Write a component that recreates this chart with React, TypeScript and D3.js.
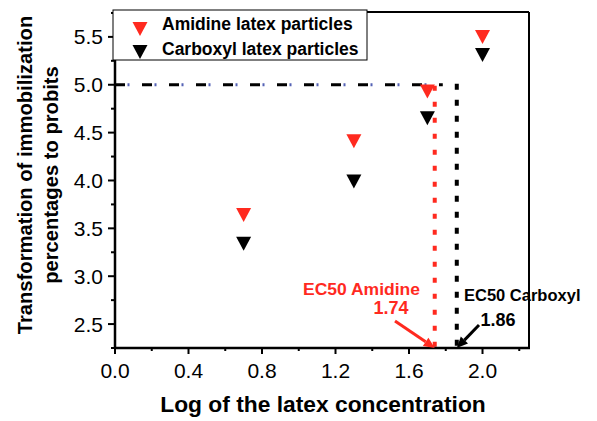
import React from "react";
import * as d3 from "d3";

const xValues = [0.7, 1.3, 1.7, 2.0];
const amidine = [3.64, 4.41, 4.93, 5.5];
const carboxyl = [3.34, 3.99, 4.65, 5.31];
const xTicks = [0.0, 0.4, 0.8, 1.2, 1.6, 2.0];
const yTicks = [2.5, 3.0, 3.5, 4.0, 4.5, 5.0, 5.5];
const xMinor = [0.2, 0.6, 1.0, 1.4, 1.8, 2.2];
const yMinor = [2.25, 2.75, 3.25, 3.75, 4.25, 4.75, 5.25, 5.75];
const ec50Amidine = 1.74;
const ec50Carboxyl = 1.86;
const probit50 = 5.0;

const W = 597, H = 421;
const L = 115, R = 529, T = 12, B = 348;
const FONT = "'Liberation Sans', Arial, Helvetica, sans-serif";
const RED = "#ff2a1f";

export default function App() {
  const x = d3.scaleLinear().domain([0, 2.253]).range([L, R]);
  const y = d3.scaleLinear().domain([2.25, 5.76]).range([B, T]);
  const tri = "M-7.5,-7L7.5,-7L0,7Z";
  const fmt = d3.format(".1f");

  const arrow = (x1: number, y1: number, x2: number, y2: number, color: string) => {
    const ang = Math.atan2(y2 - y1, x2 - x1);
    const hl = 11, hw = 5;
    const bx = x2 - hl * Math.cos(ang), by = y2 - hl * Math.sin(ang);
    const px = -Math.sin(ang) * hw, py = Math.cos(ang) * hw;
    return (
      <g>
        <line x1={x1} y1={y1} x2={bx} y2={by} stroke={color} strokeWidth={3} />
        <path d={`M${x2},${y2}L${bx + px},${by + py}L${bx - px},${by - py}Z`} fill={color} />
      </g>
    );
  };

  return (
    <svg width={W} height={H} style={{ position: "absolute", left: 0, top: 0, background: "#fff" }} fontFamily={FONT}>
      <rect x={0} y={0} width={W} height={H} fill="#fff" />
      {/* reference lines */}
      <line x1={x(0)} x2={x(ec50Carboxyl) - 14} y1={y(probit50)} y2={y(probit50)} stroke="#000" strokeWidth={3} strokeDasharray="10 17" />
      <line x1={x(0)} x2={x(ec50Carboxyl) - 14} y1={y(probit50)} y2={y(probit50)} stroke="#5563b5" strokeWidth={3} strokeDasharray="2 25" strokeDashoffset={-12.5} />
      <line x1={x(ec50Amidine)} x2={x(ec50Amidine)} y1={y(probit50) + 1} y2={B} stroke={RED} strokeWidth={4} strokeDasharray="5 11" />
      <line x1={x(ec50Carboxyl)} x2={x(ec50Carboxyl)} y1={y(probit50) - 1} y2={B} stroke="#000" strokeWidth={4} strokeDasharray="6 10" />

      {/* frame */}
      <line x1={L} x2={R} y1={T} y2={T} stroke="#000" strokeWidth={2} />
      <line x1={R} x2={R} y1={T} y2={B} stroke="#000" strokeWidth={2} />
      <line x1={L} x2={R + 1} y1={B} y2={B} stroke="#000" strokeWidth={2.5} />
      <line x1={L} x2={L} y1={T} y2={B + 1} stroke="#000" strokeWidth={2.5} />

      {/* x ticks */}
      {xTicks.map((t) => (
        <g key={"xt" + t}>
          <line x1={x(t)} x2={x(t)} y1={B} y2={B + 6} stroke="#000" strokeWidth={2} />
          <text x={x(t)} y={378} textAnchor="middle" fontSize={21} fill="#000">{fmt(t)}</text>
        </g>
      ))}
      {xMinor.map((t) => (
        <line key={"xm" + t} x1={x(t)} x2={x(t)} y1={B} y2={B + 3} stroke="#000" strokeWidth={2} />
      ))}
      {/* y ticks */}
      {yTicks.map((t) => (
        <g key={"yt" + t}>
          <line x1={L - 7} x2={L} y1={y(t)} y2={y(t)} stroke="#000" strokeWidth={2} />
          <text x={103} y={y(t)} dy="0.36em" textAnchor="end" fontSize={21} fill="#000">{fmt(t)}</text>
        </g>
      ))}
      {yMinor.map((t) => (
        <line key={"ym" + t} x1={L - 4} x2={L} y1={y(t)} y2={y(t)} stroke="#000" strokeWidth={2} />
      ))}

      {/* data */}
      {xValues.map((v, i) => (
        <path key={"a" + i} d={tri} transform={`translate(${x(v)},${y(amidine[i])})`} fill={RED} />
      ))}
      {xValues.map((v, i) => (
        <path key={"c" + i} d={tri} transform={`translate(${x(v)},${y(carboxyl[i])})`} fill="#000" />
      ))}

      {/* legend */}
      <rect x={113} y={10} width={254} height={50} fill="#fff" stroke="#000" strokeWidth={1} />
      <path d={tri} transform="translate(140,29)" fill={RED} />
      <path d={tri} transform="translate(140,52)" fill="#000" />
      <text x={162} y={30} fontSize={17.5} fontWeight="bold" fill="#000">Amidine latex particles</text>
      <text x={162} y={55} fontSize={17.5} fontWeight="bold" fill="#000">Carboxyl latex particles</text>

      {/* annotations */}
      <text x={303} y={295} fontSize={17} fontWeight="bold" fill={RED} textLength={117} lengthAdjust="spacingAndGlyphs">EC50 Amidine</text>
      <text x={391} y={314} fontSize={18} fontWeight="bold" fill={RED} textAnchor="middle">1.74</text>
      {arrow(395, 321, x(ec50Amidine), B, RED)}
      <text x={464} y={301} fontSize={16.5} fontWeight="bold" fill="#000">EC50 Carboxyl</text>
      <text x={498} y={326} fontSize={18} fontWeight="bold" fill="#000" textAnchor="middle">1.86</text>
      {arrow(479, 325, x(ec50Carboxyl), B, "#000")}

      {/* axis titles */}
      <text x={323} y={412} textAnchor="middle" fontSize={22.8} fontWeight="bold" fill="#000">Log of the latex concentration</text>
      <g transform="translate(32,175) rotate(-90)">
        <text x={0} y={0} textAnchor="middle" fontSize={20.2} fontWeight="bold" fill="#000">Transformation of immobilization</text>
        <text x={0} y={26} textAnchor="middle" fontSize={20.2} fontWeight="bold" fill="#000">percentages to probits</text>
      </g>
    </svg>
  );
}
